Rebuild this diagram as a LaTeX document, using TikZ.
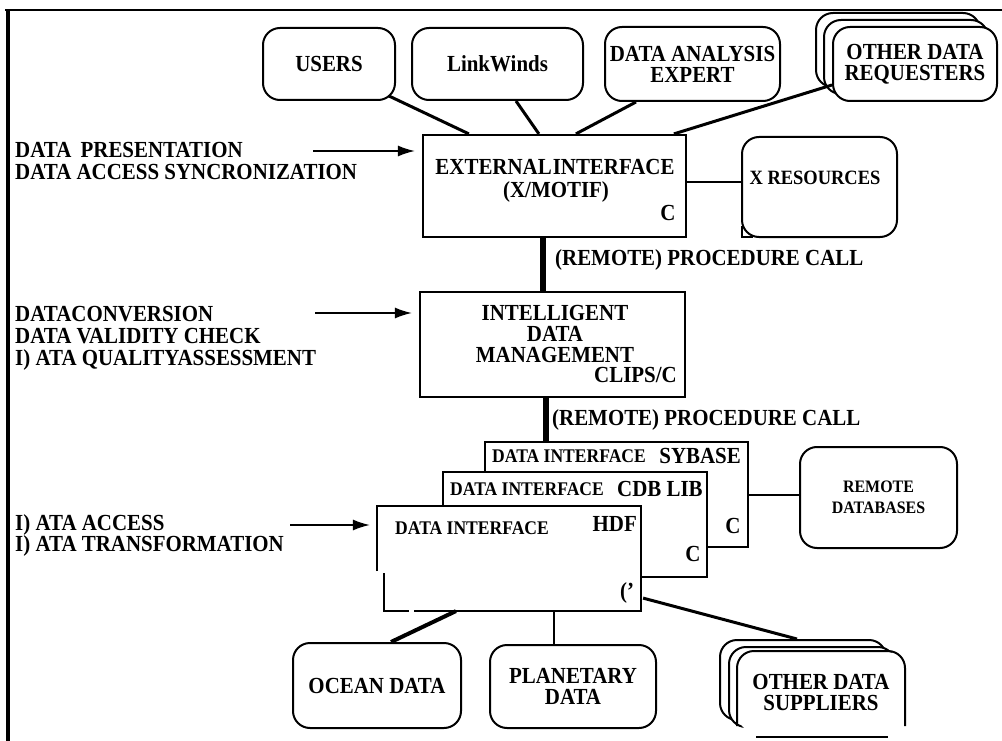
\documentclass[tikz,border=0pt]{standalone}
\usepackage{fontspec}
\setmainfont{Liberation Serif}[FakeStretch=0.91]
\usetikzlibrary{arrows.meta,calc}
\begin{document}
\begin{tikzpicture}[x=1pt,y=-1pt,
  txt/.style={font=\bfseries\fontsize{23}{21}\selectfont, inner sep=0pt},
  smalltxt/.style={font=\bfseries\fontsize{19.3}{20}\selectfont, inner sep=0pt},
  rbox/.style={draw, line width=2pt, rounded corners=17pt, fill=white, inner sep=0pt, align=center, font=\bfseries\fontsize{23}{21}\selectfont},
  sbox/.style={draw, line width=2.2pt, fill=white, inner sep=0pt},
  conn/.style={line width=3pt},
  wire/.style={line width=5.5pt},
  ptr/.style={line width=1.5pt, -{Latex[length=17pt,width=11pt]}, shorten >=7pt},
]
\useasboundingbox (0,0) rectangle (1002,741);
\fill[white] (0,0) rectangle (1002,741);
% frame
\draw[line width=2pt] (5,10) -- (1002,10);
\draw[line width=3.5pt] (8,10) -- (8,741);

% top row
\node[rbox, minimum width=132pt, minimum height=72pt] (users) at (329,64) {USERS};
\node[rbox, minimum width=171pt, minimum height=72pt] (link) at (497.5,64) {LinkWinds};
\node[rbox, minimum width=175pt, minimum height=74pt] (dae) at (692.5,64) {DATA ANALYSIS\\EXPERT};
\node[rbox, minimum width=164pt, minimum height=74pt] (orq3) at (898,50) {};
\node[rbox, minimum width=164pt, minimum height=74pt] (orq2) at (906,57) {};
\node[rbox, minimum width=164pt, minimum height=74pt] (orq1) at (915,64) {OTHER DATA\\REQUESTERS};

% external interface
\node[sbox, minimum width=263pt, minimum height=102pt] (ext) at (554.5,186) {};
\node[txt, anchor=base] (ext1) at (555,175) {EXTERNAL\hspace{1pt}INTERFACE};
\node[txt, anchor=base] (ext2) at (556,197) {(X/MOTIF)};
\node[txt, anchor=base] (extc) at (668,221) {C};

% X resources
\node[rbox, minimum width=155pt, minimum height=100pt] (xres) at (819.5,187) {};
\node[inner sep=0pt, font=\bfseries\fontsize{20.3}{20}\selectfont, anchor=base] (xrest) at (815,185) {X RESOURCES};
\draw[line width=2pt] (742,226) -- (742,237) -- (753,237);
\draw[line width=1.5pt] ([yshift=4pt]ext.east) -- ([yshift=4pt]ext.east -| xres.west);

% top connectors
\draw[conn] ($(users.south east)+(-7,-5)$) -- ($(ext.north west)+(47,0)$);
\draw[conn] ($(link.south west)+(105,0)$) -- ($(ext.north west)+(117,0)$);
\draw[conn] ($(dae.south west)+(32,0)$) -- ($(ext.north west)+(154,0)$);
\draw[conn] ($(orq1.south west)+(0,-17)$) -- ($(ext.north west)+(252,0)$);

% intelligent data management
\node[sbox, minimum width=265pt, minimum height=105pt] (idm) at (552.5,344.5) {};
\node[txt, align=center, font=\bfseries\fontsize{23}{21}\selectfont, anchor=north] (idmt) at (555,305) {INTELLIGENT\\DATA\\MANAGEMENT};
\node[txt, anchor=base east] (idm4) at (677,382) {CLIPS/C};

\coordinate (w1) at ($(ext.south west)+(121,0)$);
\draw[wire] (w1) -- (w1 |- idm.north);
\node[txt, anchor=base west] (rpc1) at (555,265) {(REMOTE) PROCEDURE CALL};

% data interface stack
\node[sbox, minimum width=263pt, minimum height=105pt] (bdi) at (616.5,494.5) {};
\node[smalltxt, anchor=base west] (bdit) at (492,462) {DATA INTERFACE};
\node[txt, anchor=base east] (bdis) at (741,463) {SYBASE};
\node[txt, anchor=base] (bdic) at (733,533) {C};

\node[sbox, minimum width=264pt, minimum height=105pt] (mdi) at (575,524.5) {};
\node[smalltxt, anchor=base west] (mdit) at (450,495) {DATA INTERFACE};
\node[txt, anchor=base west] (mdis) at (617,496) {CDB LIB};
\node[txt, anchor=base] (mdic) at (693,561) {C};

\node[sbox, draw=none, minimum width=262pt, minimum height=103pt] (fdi) at (509,558.5) {};
\draw[line width=2.2pt] ($(fdi.south west)+(0,-40)$) -- (fdi.north west) -- (fdi.north east) -- (fdi.south east) -- ($(fdi.south west)+(37,0)$);
\draw[line width=2.2pt] ($(fdi.south west)+(32,0)$) -- ($(fdi.south west)+(7,0)$) -- ($(fdi.south west)+(7,-38)$);
\node[smalltxt, anchor=base west] (fdit) at (395,534) {DATA INTERFACE};
\node[txt, anchor=base east] (fdis) at (637,531) {HDF};
\node[txt, anchor=base] (fdic) at (627,598) {('};

\coordinate (w2) at ($(idm.south west)+(127,0)$);
\draw[wire] (w2) -- (w2 |- bdi.north);
\node[txt, anchor=base west] (rpc2) at (552,425) {(REMOTE) PROCEDURE CALL};

% remote databases
\node[rbox, minimum width=157pt, minimum height=101pt, font=\bfseries\fontsize{17.5}{21}\selectfont] (rdb) at (878.5,497.5) {REMOTE\\DATABASES};
\draw[line width=2pt] (bdi.east) -- (bdi.east -| rdb.west);

% bottom row
\node[rbox, minimum width=168pt, minimum height=85pt] (ocean) at (377,685.5) {OCEAN DATA};
\node[rbox, minimum width=166pt, minimum height=83pt] (planet) at (573,686.5) {PLANETARY\\DATA};
\node[rbox, minimum width=166pt, minimum height=80pt] (osup3) at (803,680) {};
\node[rbox, minimum width=166pt, minimum height=80pt] (osup2) at (812,687) {};
\node[rbox, draw=none, minimum width=166pt, minimum height=80pt] (osup1) at (821,692) {OTHER DATA\\SUPPLIERS};
\draw[line width=2pt, rounded corners=17pt] ($(osup1.south west)+(0,-7)$) -- (osup1.north west) -- (osup1.north east) -- ($(osup1.south east)+(0,-7)$);
\draw[line width=2.5pt] ($(osup1.south west)+(19,4)$) -- ($(osup1.south east)+(-17,4)$);

\draw[line width=4pt] ($(fdi.south west)+(79,0)$) -- ($(ocean.north west)+(99,0)$);
\coordinate (pc) at ($(fdi.south west)+(177,0)$);
\draw[line width=2pt] (pc) -- (pc |- planet.north);
\draw[conn] ($(fdi.south east)+(2,-13)$) -- ($(osup3.north west)+(78,0)$);

% left labels
\node[txt, anchor=base west] (l1) at (15,158) {DATA\hspace{4pt} PRESENTATION};
\node[txt, anchor=base west] (l2) at (15,179) {DATA ACCESS SYNCRONIZATION};
\node[txt, anchor=base west] (l3) at (15,321) {DATACONVERSION};
\node[txt, anchor=base west] (l4) at (15,343) {DATA VALIDITY CHECK};
\node[txt, anchor=base west] (l5) at (15,365) {I) ATA QUALITYASSESSMENT};
\node[txt, anchor=base west] (l6) at (15,530) {I) ATA ACCESS};
\node[txt, anchor=base west] (l7) at (15,551) {I) ATA TRANSFORMATION};

% arrows
\coordinate (a1) at (313,151);
\draw[ptr] (a1) -- (a1 -| ext.west);
\coordinate (a2) at (315,313);
\draw[ptr] (a2) -- (a2 -| idm.west);
\coordinate (a3) at (290,525);
\draw[ptr] (a3) -- (a3 -| fdi.west);
\end{tikzpicture}
\end{document}
